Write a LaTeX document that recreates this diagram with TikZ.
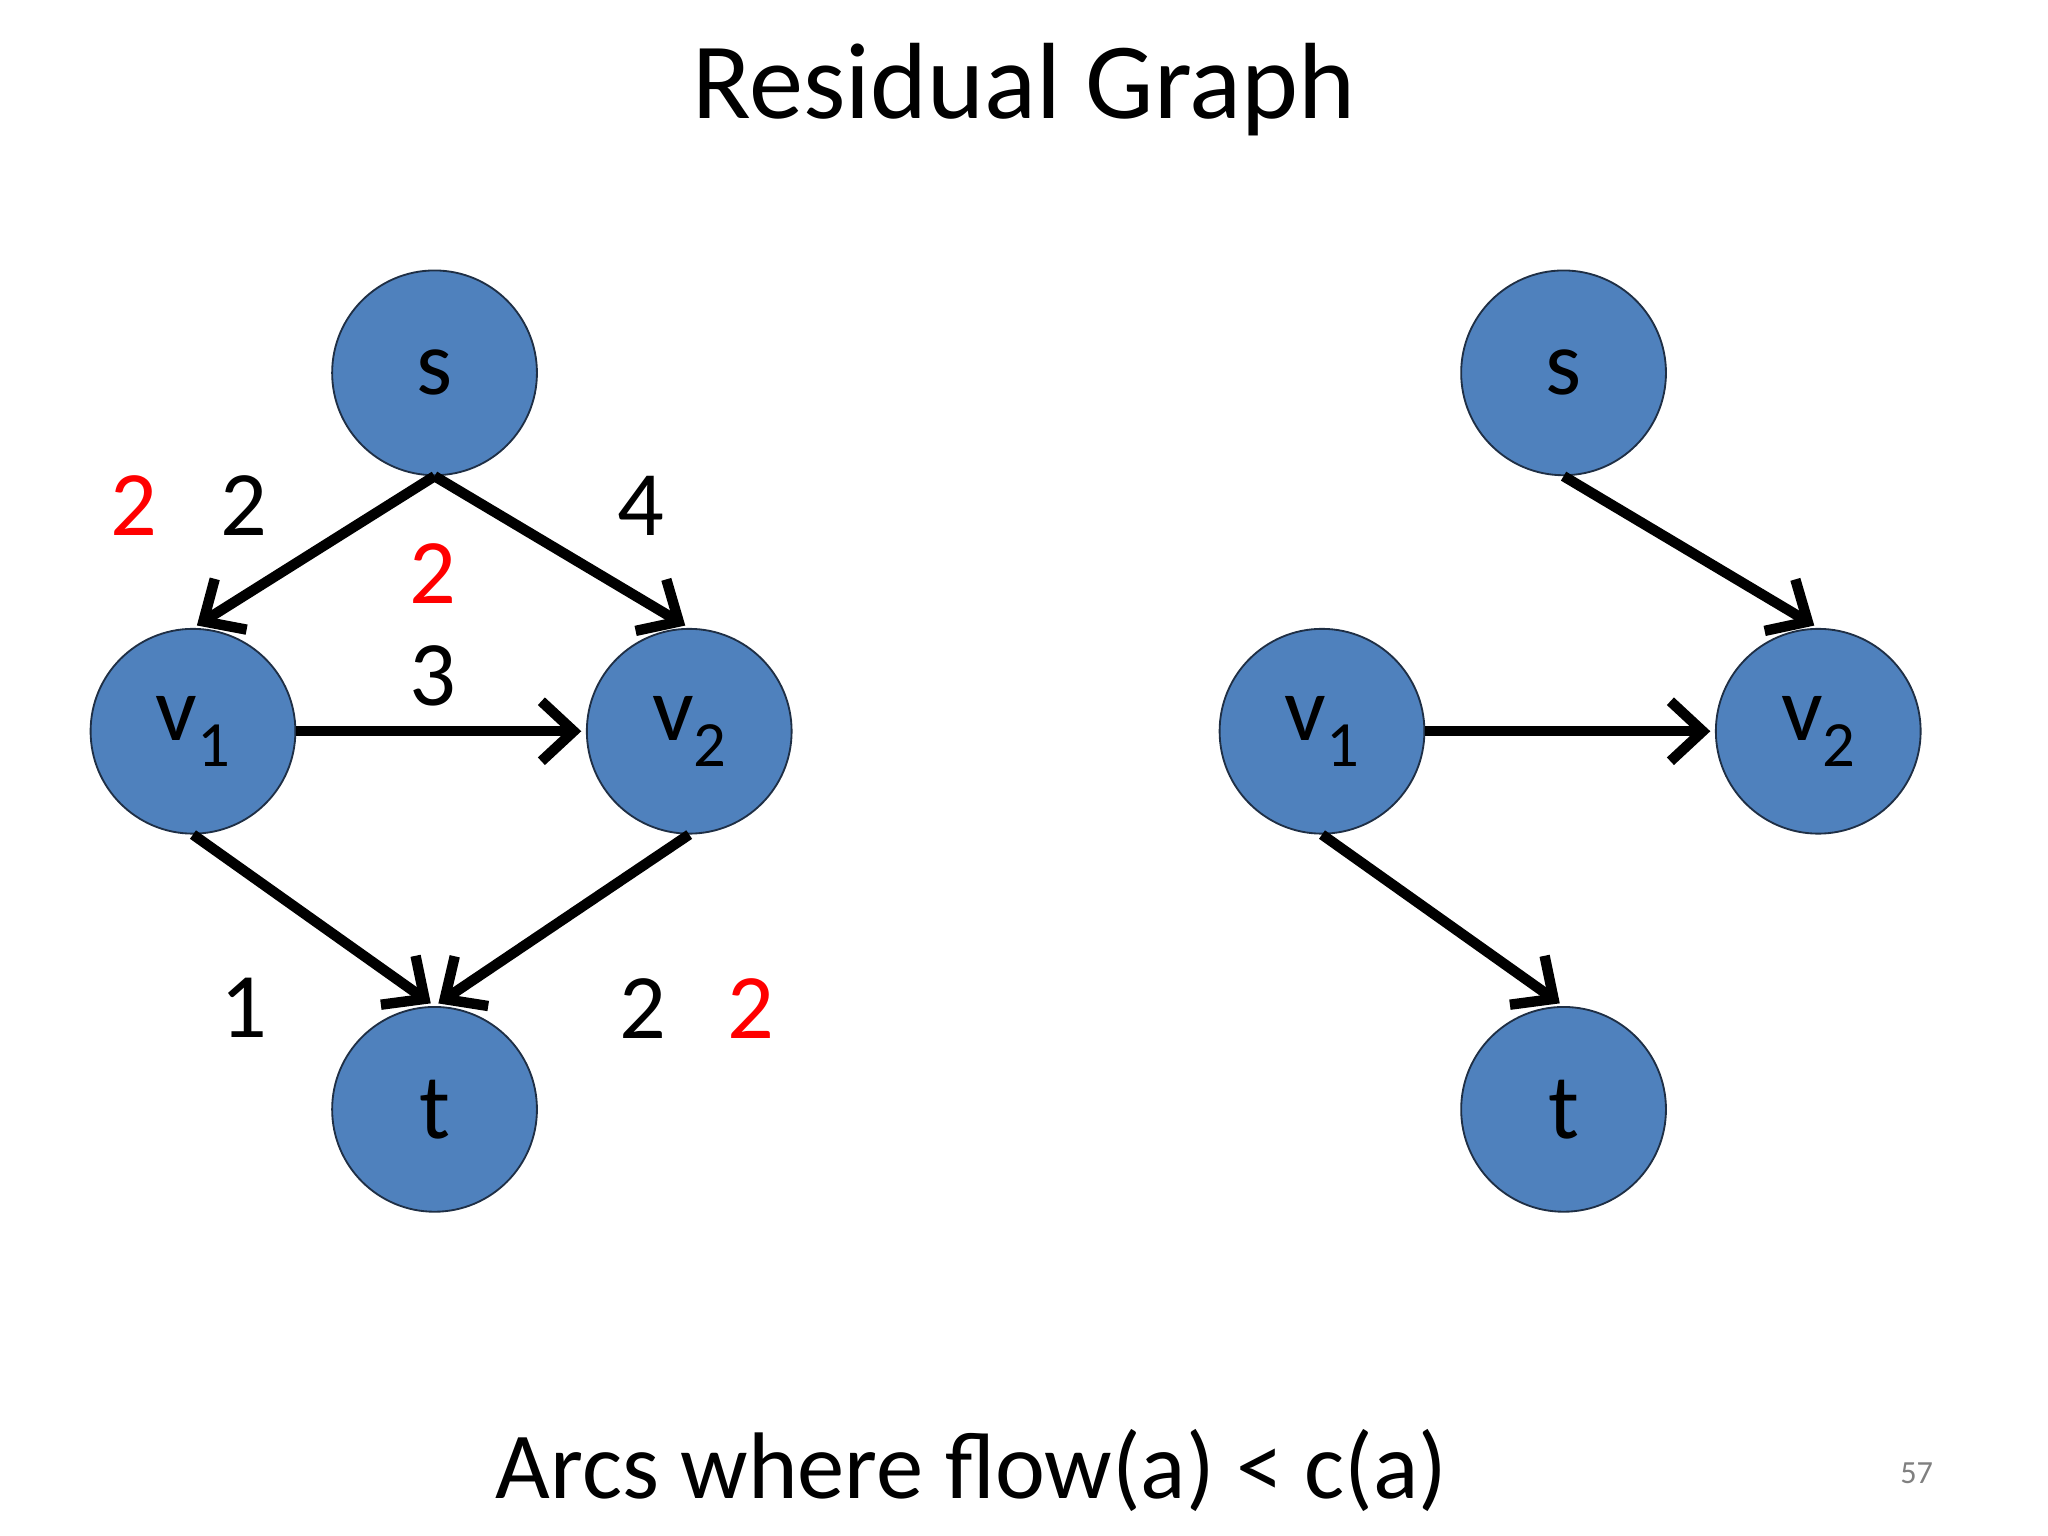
\documentclass[tikz,border=0pt]{standalone}
\usepackage{fontspec}
\setmainfont{Carlito}
\usetikzlibrary{arrows.meta}
\definecolor{nodeblue}{HTML}{4F81BD}
\definecolor{nodeedge}{HTML}{1F2F45}
\begin{document}
\begin{tikzpicture}[x=0.02cm,y=-0.02cm,
  vert/.style={circle,fill=nodeblue,draw=nodeedge,line width=0.8pt,minimum size=156*0.02cm,inner sep=0pt,font=\fontsize{40}{40}\selectfont},
  arc/.style={line width=4.5pt,-{Straight Barb[length=14pt,width=26pt,line width=4.5pt]},shorten >=2pt},
  lab/.style={font=\fontsize{40}{40}\selectfont},
  red/.style={lab,text=red}]
\useasboundingbox (0,0) rectangle (1560,1170);
\newcommand{\vsub}[1]{v\raisebox{-0.6ex}{\fontsize{28}{28}\selectfont #1}}
\node[font=\fontsize{47}{47}\selectfont] (title) at (780,68) {Residual Graph};
\node[font=\fontsize{41}{41}\selectfont] (foot) at (740,1120) {Arcs where flow(a) < c(a)};
\node[font=\fontsize{14}{14}\selectfont,text=gray] (pg) at (1460,1122) {57};
% left
\node[vert] (s) at (331,284) {s};
\node[vert] (v1) at (147,557) {\vsub1};
\node[vert] (v2) at (525,557) {\vsub2};
\node[vert] (t) at (331,845) {t};
\draw[arc] (s.south) -- (v1.north);
\draw[arc] (s.south) -- (v2.north);
\draw[arc] (v1.east) -- (v2.west);
\draw[arc] (v1.south) -- (t.north);
\draw[arc] (v2.south) -- (t.north);
\node[red] (l1) at (102,385) {2};
\node[lab] (l2) at (186,385) {2};
\node[lab] (l3) at (488,385) {4};
\node[red] (l4) at (330,437) {2};
\node[lab] (l5) at (330,515) {3};
\node[lab] (l6) at (186,768) {1};
\node[lab] (l7) at (490,768) {2};
\node[red] (l8) at (572,768) {2};
% right
\node[vert] (rs) at (1191,284) {s};
\node[vert] (rv1) at (1007,557) {\vsub1};
\node[vert] (rv2) at (1385,557) {\vsub2};
\node[vert] (rt) at (1191,845) {t};
\draw[arc] (rs.south) -- (rv2.north);
\draw[arc] (rv1.east) -- (rv2.west);
\draw[arc] (rv1.south) -- (rt.north);
\end{tikzpicture}
\end{document}
